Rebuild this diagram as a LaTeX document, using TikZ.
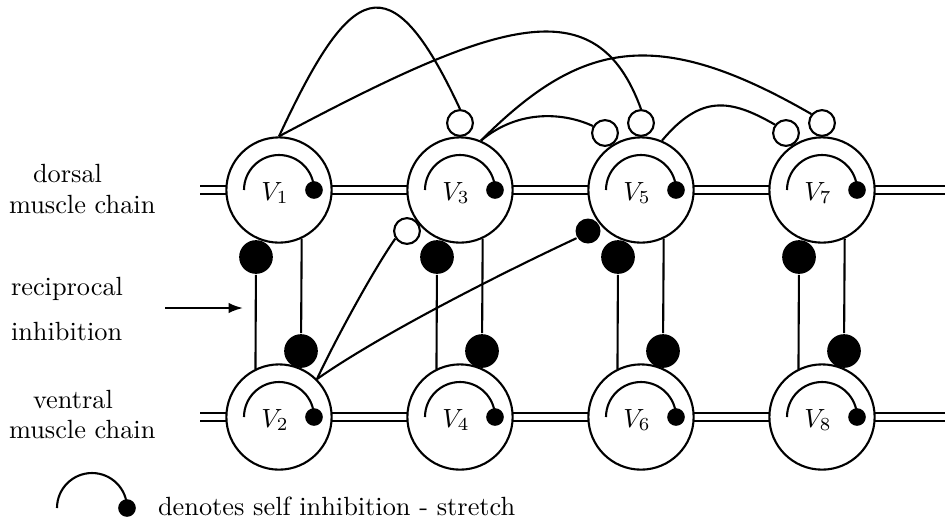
\documentclass[tikz,border=0pt]{standalone}
\usetikzlibrary{arrows.meta}
\begin{document}
\begin{tikzpicture}[x=0.38pt,y=0.38pt,line width=0.8pt,
  neuron/.style={circle,draw,fill=white,minimum size=40pt,inner sep=0pt},
  excit/.style={circle,draw,fill=white,minimum size=9.8pt,inner sep=0pt},
  bigdot/.style={circle,fill=black,minimum size=12.8pt,inner sep=0pt},
  smalldot/.style={circle,fill=black,minimum size=9.5pt,inner sep=0pt},
  chain/.style={double,double distance=2.5pt,line width=0.75pt},
  lbl/.style={inner sep=0pt,anchor=base west}]
\useasboundingbox (0,0) rectangle (945,-525);
\newcommand\neuronat[4]{%
  \node[neuron] (#1) at (#2,#3) {};
  \draw ([shift={(-35,0)}]#1.center) arc[start angle=180,end angle=0,radius=13.3pt];
  \fill ([shift={(35,0)}]#1.center) circle[radius=3.35pt];
  \node[anchor=base,inner sep=0pt] (#1l) at ([shift={(-4,-10)}]#1.center) {$V_{#4}$};
}
% muscle chains
\coordinate (dL) at (200,-190);
\coordinate (dR) at (945,-190);
\coordinate (vL) at (200,-417);
\coordinate (vR) at (945,-417);
\draw[chain] (dL) -- (dR);
\draw[chain] (vL) -- (vR);
% neurons
\neuronat{V1}{279}{-190}{1}
\neuronat{V3}{460}{-190}{3}
\neuronat{V5}{641}{-190}{5}
\neuronat{V7}{822}{-190}{7}
\neuronat{V2}{279}{-417}{2}
\neuronat{V4}{460}{-417}{4}
\neuronat{V6}{641}{-417}{6}
\neuronat{V8}{822}{-417}{8}
% reciprocal inhibition
\foreach \t/\b/\x in {V1/V2/279, V3/V4/460, V5/V6/641, V7/V8/822} {
  \node[bigdot] (d\t) at (\x-23,-257) {};
  \node[bigdot] (d\b) at (\x+22,-351) {};
  \draw (d\t) -- (\b.116);
  \draw (\t.-65) -- (d\b);
}
% synapse terminals
\node[excit] (c3t) at (460,-123) {};
\node[excit] (c5t) at (641,-123) {};
\node[excit] (c7t) at (822,-123) {};
\node[excit] (c5a) at (605,-133) {};
\node[excit] (c7a) at (786,-133) {};
\node[excit] (c3b) at (407,-231) {};
\node[smalldot] (d5b) at (588,-231) {};
% long-range connections
\draw (V1.north) .. controls +(65:168) and +(115:168) .. (c3t.north);
\draw (V1.north) .. controls +(28:250) and +(110:130) .. (c5t.north);
\draw (V3.67) .. controls +(45:140) and +(150:180) .. (c7t.140);
\draw (V3.67) .. controls +(40:50) and +(155:31) .. (c5a.150);
\draw (V5.67) .. controls +(50:60) and +(150:52) .. (c7a.143);
\draw (V2.45) .. controls +(65:40) and +(235:40) .. (c3b.213);
\draw (V2.45) .. controls +(35:80) and +(205:80) .. (d5b.212);
% labels
\node[lbl] (t1) at (32,-182) {dorsal};
\node[lbl] (t2) at (8,-213) {muscle chain};
\node[lbl] (t3) at (10,-295) {reciprocal};
\node[lbl] (t4) at (10,-340) {inhibition};
\node[lbl] (t5) at (32,-408) {ventral};
\node[lbl] (t6) at (8,-438) {muscle chain};
\coordinate (a1) at (165,-308);
\coordinate (a2) at (243,-308);
\draw[-{Latex[length=5.5pt,width=4pt]}] (a1) -- (a2);
% legend
\coordinate (lc) at (92,-508);
\draw ([shift={(-35,0)}]lc) arc[start angle=180,end angle=0,radius=13.3pt];
\fill ([shift={(35,0)}]lc) circle[radius=3.35pt];
\node[lbl] (t7) at (157,-515) {denotes self inhibition - stretch};
\end{tikzpicture}
\end{document}
